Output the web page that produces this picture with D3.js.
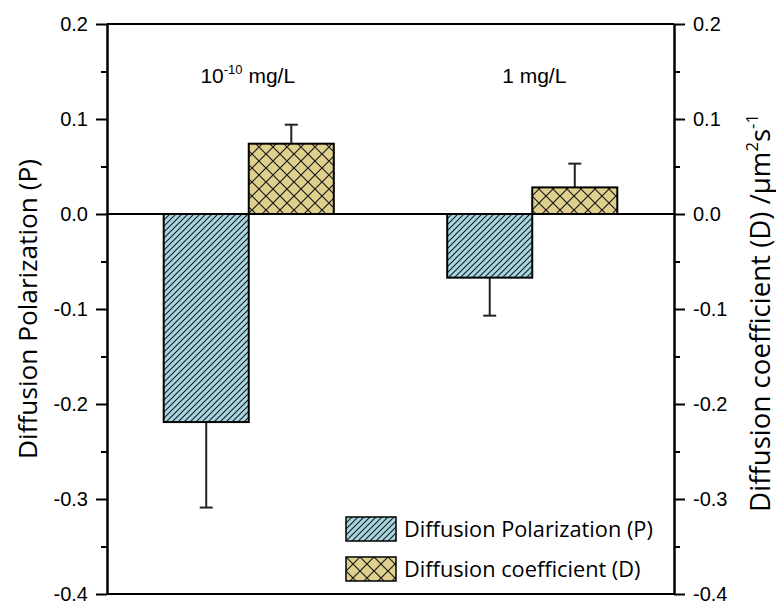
<!DOCTYPE html>
<html>
<head>
<meta charset="utf-8">
<script src="https://cdn.jsdelivr.net/npm/d3@7"></script>
<style>
  html, body { margin: 0; padding: 0; background: #fff; }
  svg { display: block; }
</style>
</head>
<body>
<svg id="chart" width="776" height="601"></svg>
<script>
// Concentration groups
const categories = ["1e-10", "1"];
const categoryLabels = [
  { base: "10", sup: "-10", rest: " mg/L" },
  { base: "1 mg/L", sup: "", rest: "" }
];

// Series
const seriesNames = ["Diffusion Polarization (P)", "Diffusion coefficient (D)"];
const polarization = [-0.219, -0.067];
const polarizationErr = [0.090, 0.040];
const coefficient = [0.074, 0.028];
const coefficientErr = [0.020, 0.025];

// Axis ticks
const majorTicks = [-0.4, -0.3, -0.2, -0.1, 0.0, 0.1, 0.2];
const minorTicks = [-0.35, -0.25, -0.15, -0.05, 0.05, 0.15];

const W = 776, H = 601;
const margin = { top: 24, right: 102, bottom: 7, left: 107 };
const x0 = margin.left, x1 = W - margin.right;
const yTop = margin.top, yBot = H - margin.bottom;

const svg = d3.select("#chart");
const labelFont = "'Open Sans', 'Noto Sans', sans-serif";
const tickFont = "'Liberation Sans', Arial, sans-serif";

const y = d3.scaleLinear().domain([-0.4, 0.2]).range([yBot, yTop]);
const xBand = d3.scaleBand().domain(categories).range([x0, x1]).paddingInner(0).paddingOuter(0);
const groupW = xBand.bandwidth() * 0.6;
const xSub = d3.scaleBand().domain(["P", "D"]).range([0, groupW]);

// Fill patterns
const defs = svg.append("defs");
const pP = defs.append("pattern").attr("id", "hatchP")
  .attr("patternUnits", "userSpaceOnUse").attr("width", 6).attr("height", 6);
pP.append("rect").attr("width", 6).attr("height", 6).attr("fill", "#a6d6e1");
pP.append("path").attr("d", "M-1,1 L1,-1 M0,6 L6,0 M5,7 L7,5")
  .attr("stroke", "#1b1b1b").attr("stroke-width", 1.1);

const pD = defs.append("pattern").attr("id", "hatchD")
  .attr("patternUnits", "userSpaceOnUse").attr("width", 14).attr("height", 14);
pD.append("rect").attr("width", 14).attr("height", 14).attr("fill", "#e0d08e");
pD.append("path").attr("d", "M0,0 L14,14 M14,0 L0,14")
  .attr("stroke", "#1b1b1b").attr("stroke-width", 1.2);

// Bars
const rows = categories.map((c, i) => ({
  cat: c,
  items: [
    { key: "P", v: polarization[i], e: polarizationErr[i], fill: "url(#hatchP)" },
    { key: "D", v: coefficient[i], e: coefficientErr[i], fill: "url(#hatchD)" }
  ]
}));

const groupOffset = (xBand.bandwidth() - groupW) / 2;
const g = svg.append("g");
rows.forEach(r => {
  r.items.forEach(it => {
    const bx = xBand(r.cat) + groupOffset + xSub(it.key);
    const bw = xSub.bandwidth();
    const cx = bx + bw / 2;
    const tip = it.v >= 0 ? it.v + it.e : it.v - it.e;
    // error bar (one-sided, away from zero)
    g.append("line").attr("x1", cx).attr("x2", cx)
      .attr("y1", y(it.v)).attr("y2", y(tip))
      .attr("stroke", "#222").attr("stroke-width", 2);
    g.append("line").attr("x1", cx - 6.5).attr("x2", cx + 6.5)
      .attr("y1", y(tip)).attr("y2", y(tip))
      .attr("stroke", "#222").attr("stroke-width", 2);
    g.append("rect")
      .attr("x", bx).attr("width", bw)
      .attr("y", y(Math.max(0, it.v)))
      .attr("height", Math.abs(y(it.v) - y(0)))
      .attr("fill", it.fill)
      .attr("stroke", "#000").attr("stroke-width", 2);
  });
});

// Zero line
svg.append("line").attr("x1", x0).attr("x2", x1)
  .attr("y1", y(0)).attr("y2", y(0))
  .attr("stroke", "#000").attr("stroke-width", 2);

// Frame: top and bottom lines
svg.append("line").attr("x1", x0).attr("x2", x1).attr("y1", y(0.2)).attr("y2", y(0.2))
  .attr("stroke", "#000").attr("stroke-width", 2);
svg.append("line").attr("x1", x0).attr("x2", x1).attr("y1", y(-0.4)).attr("y2", y(-0.4))
  .attr("stroke", "#000").attr("stroke-width", 2);

// Axes
const fmt = d => d.toFixed(1).replace("-0.0", "0.0");
function styleAxis(sel) {
  sel.select(".domain").attr("stroke", "#000").attr("stroke-width", 2);
  sel.selectAll(".tick line").attr("stroke", "#000").attr("stroke-width", 2);
  sel.selectAll(".tick text").attr("font-family", tickFont).attr("font-size", 20).attr("fill", "#000");
}
const leftAxis = svg.append("g").attr("transform", `translate(${x0},0)`)
  .call(d3.axisLeft(y).tickValues(majorTicks).tickFormat(fmt).tickSize(11).tickPadding(8).tickSizeOuter(0));
styleAxis(leftAxis);
const leftMinor = svg.append("g").attr("transform", `translate(${x0},0)`)
  .call(d3.axisLeft(y).tickValues(minorTicks).tickFormat("").tickSize(6).tickSizeOuter(0));
styleAxis(leftMinor);

const rightAxis = svg.append("g").attr("transform", `translate(${x1},0)`)
  .call(d3.axisRight(y).tickValues(majorTicks).tickFormat(fmt).tickSize(11).tickPadding(8).tickSizeOuter(0));
styleAxis(rightAxis);
const rightMinor = svg.append("g").attr("transform", `translate(${x1},0)`)
  .call(d3.axisRight(y).tickValues(minorTicks).tickFormat("").tickSize(6).tickSizeOuter(0));
styleAxis(rightMinor);

// Fit a text element's font size to a given length
function fitText(sel, target) {
  const len = sel.node().getComputedTextLength();
  const fs = parseFloat(sel.attr("font-size"));
  sel.attr("font-size", fs * target / len);
}

// Axis titles
const leftTitle = svg.append("text")
  .attr("transform", `translate(37,${(yTop + yBot) / 2}) rotate(-90)`)
  .attr("text-anchor", "middle")
  .attr("font-family", labelFont).attr("font-size", 22).attr("fill", "#000")
  .text("Diffusion Polarization (P)");
fitText(leftTitle, 300);

const rightTitle = svg.append("text")
  .attr("transform", `translate(770,${(yTop + yBot) / 2 + 4}) rotate(-90)`)
  .attr("text-anchor", "middle")
  .attr("font-family", labelFont).attr("font-size", 22).attr("fill", "#000");
rightTitle.append("tspan").text("Diffusion coefficient (D) /\u03bcm");
rightTitle.append("tspan").attr("dy", -12).attr("font-size", "0.6em").text("2");
rightTitle.append("tspan").attr("dy", 12).text("s");
rightTitle.append("tspan").attr("dy", -12).attr("font-size", "0.6em").text("-1");
fitText(rightTitle, 398);

// Group annotations
categoryLabels.forEach((lab, i) => {
  const t = svg.append("text")
    .attr("x", xBand(categories[i]) + xBand.bandwidth() / 2 + (i === 0 ? -1 : 2))
    .attr("y", 83)
    .attr("text-anchor", "middle")
    .attr("font-family", tickFont).attr("font-size", 21).attr("fill", "#000");
  t.append("tspan").text(lab.base);
  if (lab.sup) {
    t.append("tspan").attr("dy", -9).attr("font-size", 13).text(lab.sup);
    t.append("tspan").attr("dy", 9).text(lab.rest);
  }
});

// Legend
const legend = svg.append("g").attr("transform", "translate(346,517)");
const legendFills = ["url(#hatchP)", "url(#hatchD)"];
seriesNames.forEach((name, i) => {
  const row = legend.append("g").attr("transform", `translate(0,${i * 40})`);
  row.append("rect").attr("width", 50).attr("height", 24)
    .attr("fill", legendFills[i]).attr("stroke", "#000").attr("stroke-width", 1.5);
  const t = row.append("text").attr("x", 58).attr("y", 20)
    .attr("font-family", labelFont).attr("font-size", 18).attr("fill", "#000")
    .text(name);
  if (i === 0) fitText(t, 249);
});
// keep both legend entries at the same size
const lt = legend.selectAll("text");
const fsL = lt.nodes()[0].getAttribute("font-size");
lt.attr("font-size", fsL);
</script>
</body>
</html>
